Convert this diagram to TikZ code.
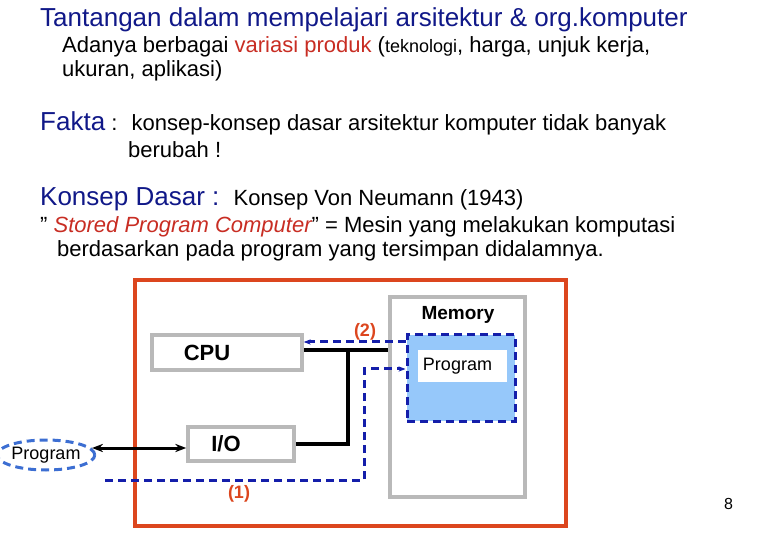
\documentclass[tikz,border=0pt]{standalone}
\usepackage{fontspec}
\setmainfont{Liberation Sans}
\usetikzlibrary{arrows.meta,shapes.geometric}
\definecolor{rd}{RGB}{220,70,30}
\definecolor{tr}{RGB}{200,45,35}
\definecolor{db}{RGB}{20,30,170}
\definecolor{lb}{RGB}{150,200,250}
\definecolor{eb}{RGB}{60,110,210}
\definecolor{gr}{RGB}{185,185,185}
\begin{document}
\begin{tikzpicture}[x=1pt,y=-1pt,
  txt/.style={anchor=base west,inner sep=0pt},
  gbox/.style={draw=gr,line width=3.5pt,fill=white},
  bus/.style={line width=4pt},
  dsh/.style={db,line width=3pt,dash pattern=on 8pt off 5pt}]
\useasboundingbox (0,0) rectangle (780,540);
\node[txt,font=\fontsize{26}{26}\selectfont,text=db!80!black] (t1) at (40,27) {Tantangan dalam mempelajari arsitektur \& org.komputer};
\node[txt,font=\fontsize{22}{22}\selectfont] (t2) at (62,53) {Adanya berbagai \textcolor{tr}{variasi produk} ({\fontsize{18}{18}\selectfont teknologi}, harga, unjuk kerja,};
\node[txt,font=\fontsize{22}{22}\selectfont] (t3) at (62,77) {ukuran, aplikasi)};
\node[txt,font=\fontsize{22}{22}\selectfont] (t4) at (40,131) {\textcolor{db!80!black}{\fontsize{26}{26}\selectfont Fakta} : \ konsep-konsep dasar arsitektur komputer tidak banyak};
\node[txt,font=\fontsize{22}{22}\selectfont] (t5) at (128,158) {berubah !};
\node[txt,font=\fontsize{22}{22}\selectfont] (t6) at (40,206) {\textcolor{db!80!black}{\fontsize{26}{26}\selectfont Konsep Dasar :} \ Konsep Von Neumann (1943)};
\node[txt,font=\fontsize{22}{22}\selectfont] (t7) at (40,233) {” \textcolor{tr}{\itshape Stored Program Computer}” = Mesin yang melakukan komputasi};
\node[txt,font=\fontsize{22}{22}\selectfont] (t8) at (57,257) {berdasarkan pada program yang tersimpan didalamnya.};
\node[txt,font=\fontsize{16}{16}\selectfont] (pg) at (724,509) {8};

\draw[rd,line width=4pt] (135,280) rectangle (566,526);
\node[gbox,minimum width=135pt,minimum height=200pt] (mem) at (457.5,397) {};
\node[font=\bfseries\fontsize{19}{19}\selectfont] (meml) at (458,315) {Memory};
\node[draw=db,fill=lb,line width=3pt,dash pattern=on 8pt off 5pt,minimum width=108pt,minimum height=86pt] (prg) at (461,378) {};
\node[fill=white,minimum width=89pt,minimum height=32pt,font=\fontsize{18}{18}\selectfont] (prgl) at (462.5,366) {\hspace*{-10pt}Program};
\node[gbox,minimum width=150pt,minimum height=35pt,font=\bfseries\fontsize{22}{22}\selectfont] (cpu) at (227,352.5) {\hspace*{-40pt}CPU};
\node[gbox,minimum width=106pt,minimum height=34pt,font=\bfseries\fontsize{22}{22}\selectfont] (io) at (241,444) {\hspace*{-30pt}I/O};
\node[draw=eb,line width=3pt,dash pattern=on 8pt off 5pt,ellipse,minimum width=88pt,minimum height=30pt,inner sep=0pt,font=\fontsize{18}{18}\selectfont] (ext) at (46,455) {Program};

\coordinate (bj) at (348,350);
\draw[bus] (cpu.east|-bj) -- (mem.west|-bj);
\draw[bus] (bj) -- (348,444) -- (io.east);
\draw[line width=3pt,{Stealth[length=11pt]}-{Stealth[length=11pt]}] (92,448) -- (io.west|-0,448);
\draw[dsh,-{Stealth[length=7pt]}] (prg.west|-0,342) -- (cpu.east|-0,342);
\coordinate (d1) at (105,480);
\draw[dsh,-{Stealth[length=7pt]}] (d1) -- (364,480) -- (364,369) -- (prg.west|-0,369);
\node[text=rd,font=\bfseries\fontsize{18}{18}\selectfont] (l2) at (365,332) {(2)};
\node[text=rd,font=\bfseries\fontsize{18}{18}\selectfont] (l1) at (239,494) {(1)};
\end{tikzpicture}
\end{document}
